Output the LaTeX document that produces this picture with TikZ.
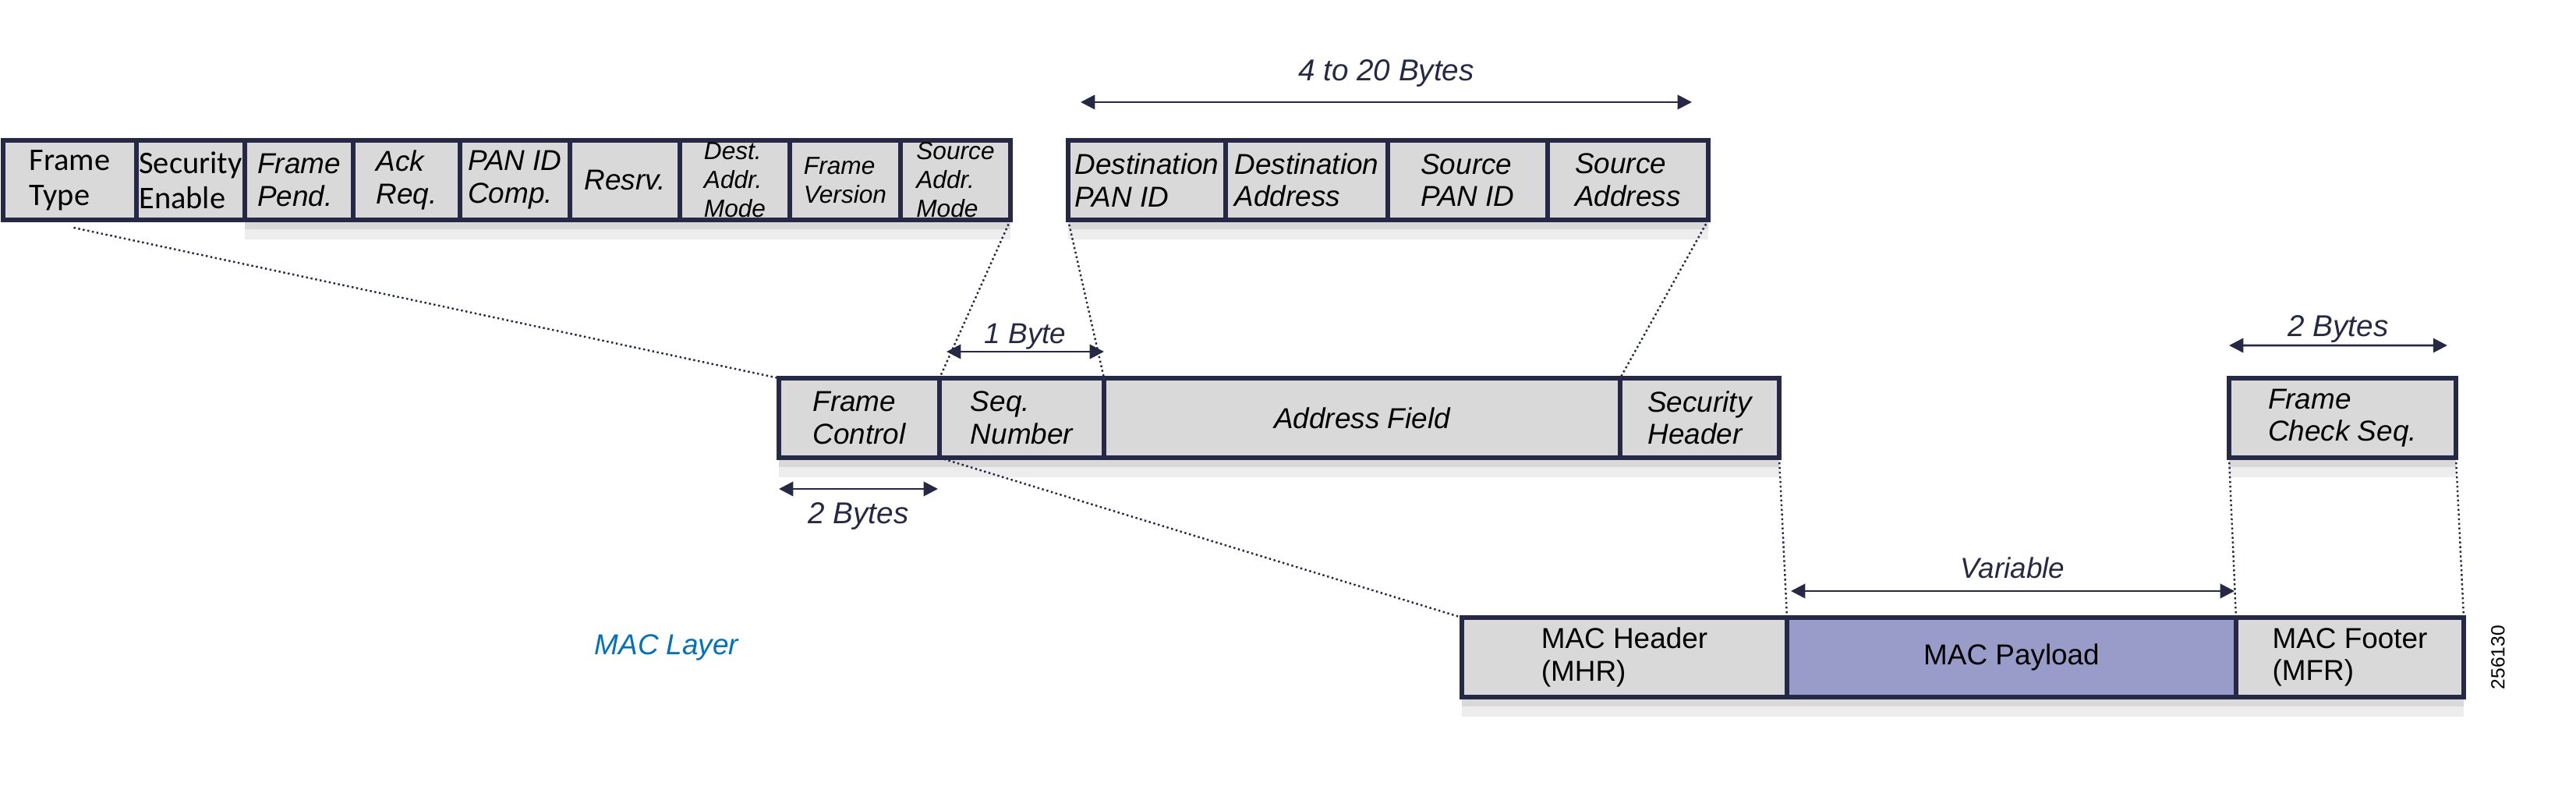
\documentclass[tikz,border=0pt]{standalone}
\usepackage{xcolor}
\usepackage{fontspec}
\setmainfont{Liberation Sans}
\newfontfamily\segfont{Carlito}
\usetikzlibrary{positioning,arrows.meta,shadows}
\definecolor{frameline}{RGB}{38,41,70}
\definecolor{fieldgray}{RGB}{217,217,217}
\definecolor{payloadfill}{RGB}{153,156,201}
\definecolor{layerblue}{RGB}{0,112,192}

\begin{document}
\begin{tikzpicture}[
  field/.style={draw=frameline,line width=1.7pt,fill=fieldgray,minimum height=1.02cm,inner sep=0pt,outer sep=0pt,align=left,font=\itshape\fontsize{10.5}{11.8}\selectfont},
  softshadow/.style={drop shadow={shadow xshift=0pt,shadow yshift=-7pt,fill=black!7,opacity=1},drop shadow={shadow xshift=0pt,shadow yshift=-3.5pt,fill=black!15,opacity=1}},
  modetext/.style={font=\itshape\fontsize{9}{10.5}\selectfont},
  bittext/.style={font=\itshape\fontsize{10.5}{12}\selectfont},
  sizelabel/.style={inner sep=0pt,font=\itshape\fontsize{11}{13}\selectfont},
  bytes/.style={{Triangle[length=5.2pt,width=5.2pt]}-{Triangle[length=5.2pt,width=5.2pt]},frameline,line width=0.8pt},
  proj/.style={frameline,densely dotted,line width=0.7pt}
]
\useasboundingbox (0,0) rectangle (33.04,10.07);

\node[field,anchor=north west,minimum width=1.71cm,font=\segfont\fontsize{11.5}{12.8}\selectfont] (ft) at (0.04,8.27) {Frame\\Type};
\node[field,right=0pt of ft,minimum width=1.39cm,font=\segfont\fontsize{11.5}{12.8}\selectfont] (se) {Security\\Enable};
\node[field,softshadow,bittext,right=0pt of se,minimum width=1.39cm] (fp) {Frame\\Pend.};
\node[field,softshadow,bittext,right=0pt of fp,minimum width=1.37cm] (ar) {Ack\\Req.};
\node[field,softshadow,bittext,right=0pt of ar,minimum width=1.41cm] (pic) {PAN ID\\Comp.};
\node[field,softshadow,bittext,right=0pt of pic,minimum width=1.41cm] (rsv) {Resrv.};
\node[field,softshadow,modetext,right=0pt of rsv,minimum width=1.41cm] (dam) {Dest.\\Addr.\\Mode};
\node[field,softshadow,modetext,right=0pt of dam,minimum width=1.42cm] (fv) {Frame\\Version};
\node[field,softshadow,modetext,right=0pt of fv,minimum width=1.41cm] (sam) {Source\\Addr.\\Mode};

\node[field,softshadow,anchor=north west,minimum width=2.02cm] (dpi) at (13.70,8.27) {Destination\\PAN ID};
\node[field,softshadow,right=0pt of dpi,minimum width=2.08cm] (da) {Destination\\Address};
\node[field,softshadow,right=0pt of da,minimum width=2.05cm] (spi) {Source\\PAN ID};
\node[field,softshadow,right=0pt of spi,minimum width=2.06cm] (sa) {Source\\Address};

\node[field,softshadow,anchor=north west,minimum width=2.06cm] (fc) at (9.99,5.22) {Frame\\Control};
\node[field,softshadow,right=0pt of fc,minimum width=2.11cm] (sn) {Seq.\\Number};
\node[field,softshadow,right=0pt of sn,minimum width=6.62cm] (af) {Address Field};
\node[field,softshadow,right=0pt of af,minimum width=2.04cm] (sh) {Security\\Header};

\node[field,softshadow,anchor=north west,minimum width=2.91cm] (fcs) at (28.59,5.22) {Frame\\Check Seq.};

\node[field,softshadow,anchor=north west,minimum width=4.17cm,font=\fontsize{10.5}{11.8}\selectfont] (mh) at (18.75,2.15) {MAC Header\\(MHR)};
\node[field,softshadow,fill=payloadfill,right=0pt of mh,minimum width=5.76cm,font=\fontsize{10.5}{11.8}\selectfont] (mp) {MAC Payload};
\node[field,softshadow,right=0pt of mp,minimum width=2.92cm,font=\fontsize{10.5}{11.8}\selectfont] (mf) {MAC Footer\\(MFR)};

\draw[proj] ([shift={(0.05,-0.1)}]ft.south) -- (fc.north west);
\draw[proj] (sam.south east) -- (sn.north west);
\draw[proj] (dpi.south west) -- (af.north west);
\draw[proj] (sa.south east) -- (sh.north west);
\draw[proj] (fc.south east) -- (mh.north west);
\draw[proj] (sh.south east) -- (mp.north west);
\draw[proj] (fcs.south west) -- (mf.north west);
\draw[proj] (fcs.south east) -- (mf.north east);

\draw[bytes] ([shift={(0.16,0.49)}]dpi.north west) -- node[above=5pt,sizelabel] {4 to 20 Bytes} ([shift={(-0.21,0.49)}]sa.north east);
\draw[bytes] ([shift={(0.09,0.34)}]sn.north west) -- node[above=0.5pt,sizelabel,font=\itshape\fontsize{10.5}{12}\selectfont] {1 Byte} ([yshift=0.34cm]sn.north east);
\draw[bytes] ([yshift=-0.4cm]fc.south west) -- node[below=4.6pt,sizelabel] {2 Bytes} ([shift={(-0.02,-0.4)}]fc.south east);
\draw[bytes] ([yshift=0.42cm]fcs.north west) -- node[above=0.7pt,sizelabel] {2 Bytes} ([shift={(-0.11,0.42)}]fcs.north east);
\draw[bytes] ([shift={(0.05,0.34)}]mp.north west) -- node[above=4.1pt,sizelabel,font=\itshape\fontsize{10.5}{12}\selectfont] {Variable} ([shift={(-0.02,0.34)}]mp.north east);

\node[text=layerblue,font=\itshape\fontsize{10.5}{12}\selectfont] (layer) at (8.55,1.77) {MAC Layer};
\node[rotate=90,font=\fontsize{7}{8}\selectfont] (figno) at (32.04,1.64) {256130};
\end{tikzpicture}
\end{document}
